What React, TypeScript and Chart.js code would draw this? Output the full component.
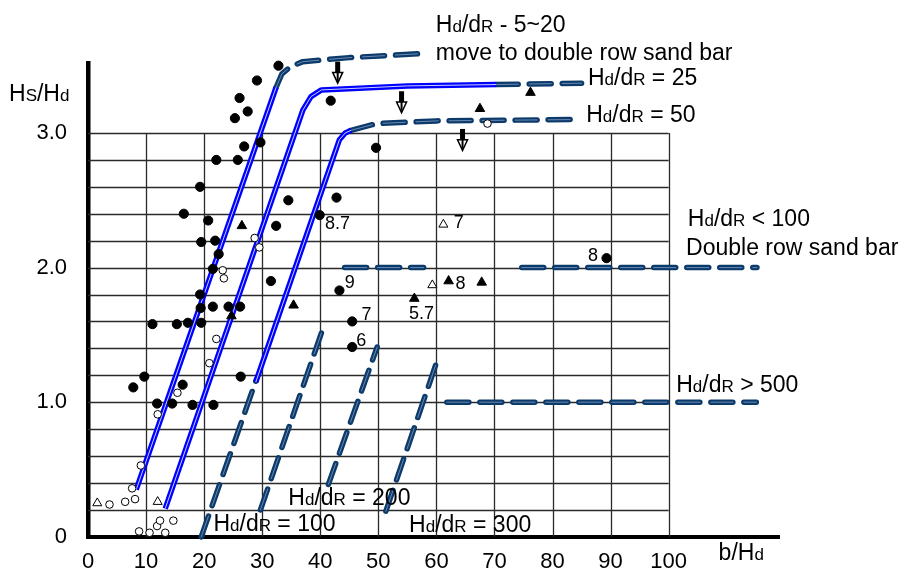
import React, { useEffect, useRef } from "react";
import { Chart, registerables } from "chart.js";

Chart.register(...registerables);

// ---------- axes ----------
const xTicks = [0, 10, 20, 30, 40, 50, 60, 70, 80, 90, 100];
const yTicks = [0, 1, 2, 3];
const yTickLabels = ["0", "1.0", "2.0", "3.0"];
const gridXs = [10, 20, 30, 40, 50, 60, 70, 80, 90, 100];
const gridYs = [0.2, 0.4, 0.6, 0.8, 1.0, 1.2, 1.4, 1.6, 1.8, 2.0, 2.2, 2.4, 2.6, 2.8, 3.0];
const gridXMax = 100;
const gridYMax = 3.0;

// ---------- observations ----------
const filledCircleX = [32.8, 29.1, 26.1, 27.5, 25.3, 29.7, 26.9, 22.1, 25.8, 19.3, 16.5, 20.7, 34.5, 32.4, 39.9, 19.5, 21.9, 22.5, 21.5, 19.3, 19.4, 21.5, 24.2, 26.2, 11.1, 15.3, 17.2, 19.5, 31.5, 9.7, 7.8, 16.3, 26.3, 11.9, 14.5, 18.0, 21.6, 41.8, 49.6, 42.8, 43.3, 45.5, 45.5, 89.3];
const filledCircleY = [3.50, 3.39, 3.26, 3.16, 3.11, 2.93, 2.90, 2.80, 2.80, 2.60, 2.40, 2.35, 2.50, 2.31, 2.39, 2.19, 2.20, 2.10, 1.99, 1.80, 1.70, 1.71, 1.71, 1.71, 1.58, 1.58, 1.59, 1.59, 1.90, 1.19, 1.11, 1.13, 1.19, 0.99, 0.99, 0.98, 0.98, 3.24, 2.89, 2.52, 1.83, 1.60, 1.41, 2.07];

const openCircleX = [28.7, 29.5, 23.2, 23.4, 22.1, 20.9, 15.4, 12.0, 9.1, 7.6, 8.1, 6.4, 3.7, 8.8, 10.6, 11.9, 12.4, 14.7, 13.3, 68.8];
const openCircleY = [2.22, 2.15, 1.98, 1.92, 1.47, 1.29, 1.07, 0.91, 0.53, 0.36, 0.28, 0.26, 0.24, 0.04, 0.03, 0.08, 0.12, 0.12, 0.03, 3.07];

const filledTriangleX = [26.5, 24.7, 35.4, 67.5, 76.2, 56.2, 62.1, 67.8];
const filledTriangleY = [2.31, 1.64, 1.72, 3.18, 3.30, 1.77, 1.90, 1.89];

const openTriangleX = [1.6, 12.0, 61.2, 59.3];
const openTriangleY = [0.25, 0.26, 2.32, 1.87];

// ---------- curves ----------
const curve520BlueX = [8.3, 32.4];
const curve520BlueY = [0.35, 3.34];
const curve520DashX = [32.4, 33.4, 34.8, 37.0, 45.0, 57.5];
const curve520DashY = [3.34, 3.44, 3.49, 3.53, 3.56, 3.59];

const curve25BlueX = [13.3, 37.0, 38.4, 40.2, 55.0, 70.3];
const curve25BlueY = [0.21, 3.17, 3.27, 3.32, 3.35, 3.36];
const curve25DashX = [70.3, 85.0];
const curve25DashY = [3.36, 3.37];

const curve50BlueX = [28.9, 43.3, 44.3, 45.3];
const curve50BlueY = [1.15, 2.95, 3.0, 3.02];
const curve50DashX = [45.3, 49.7, 60.0, 84.2];
const curve50DashY = [3.02, 3.07, 3.09, 3.10];

const line100X = [19.5, 29.0];
const line100Y = [0.0, 1.17];
const line200X = [29.7, 40.8];
const line200Y = [0.20, 1.59];
const line200bX = [41.4, 49.8];
const line200bY = [0.39, 1.41];
const line300X = [51.3, 60.3];
const line300Y = [0.19, 1.33];

const level2aX = [44.2, 57.8];
const level2aY = [2.0, 2.0];
const level2bX = [74.7, 115.2];
const level2bY = [2.0, 2.0];
const level1X = [61.8, 115.1];
const level1Y = [1.0, 1.0];

// ---------- arrows ----------
const arrowX = [43.0, 54.0, 64.5];
const arrowTopY = [3.53, 3.31, 3.03];
const arrowTipY = [3.37, 3.15, 2.87];

// ---------- point labels ----------
const pointLabelTexts = ["8.7", "7", "9", "7", "6", "5.7", "8", "8"];
const pointLabelX = [40.8, 63.0, 44.2, 47.1, 46.2, 55.3, 63.3, 86.1];
const pointLabelY = [2.29, 2.296, 1.85, 1.61, 1.42, 1.62, 1.84, 2.047];

// ---------- notes ([..] = small letters) ----------
const noteTexts = [
  "H[d]/d[R] - 5~20",
  "move to double row sand bar",
  "H[d]/d[R] = 25",
  "H[d]/d[R] = 50",
  "H[d]/d[R] < 100",
  "Double row sand bar",
  "H[d]/d[R] > 500",
  "H[d]/d[R] = 200",
  "H[d]/d[R] = 100",
  "H[d]/d[R] = 300",
  "H[S]/H[d]",
  "b/H[d]",
];
const noteX = [59.9, 59.9, 86.1, 85.8, 103.3, 103.0, 101.3, 34.5, 21.6, 55.3, -13.6, 108.6];
const noteY = [3.75, 3.54, 3.356, 3.08, 2.306, 2.096, 1.076, 0.237, 0.04, 0.035, 3.24, -0.175];

const FONT = '"Liberation Sans", Arial, Helvetica, sans-serif';
const BLUE = "#0000ff";
const BLUE_IN = "#c8d0ff";
const NAVY = "#0c3a6b";
const NAVY_IN = "#6a8ab2";

const pts = (xs: number[], ys: number[]) => xs.map((x, i) => ({ x, y: ys[i] }));

function drawRich(ctx: CanvasRenderingContext2D, text: string, x: number, y: number, size: number) {
  const parts = text.split(/(\[[^\]]*\])/).filter((p) => p.length > 0);
  let cx = x;
  for (const p of parts) {
    const small = p.startsWith("[");
    const t = small ? p.slice(1, -1) : p;
    ctx.font = `${small ? Math.round(size * 0.76) : size}px ${FONT}`;
    ctx.fillText(t, cx, y);
    cx += ctx.measureText(t).width;
  }
}

const gridPlugin = {
  id: "customGrid",
  beforeDatasetsDraw(chart: any) {
    const { ctx, scales } = chart;
    const xs = scales.x;
    const ys = scales.y;
    ctx.save();
    ctx.lineWidth = 1.3;
    ctx.strokeStyle = "#2a2a2a";
    for (const gx of gridXs) {
      const px = Math.round(xs.getPixelForValue(gx)) + 0.5;
      ctx.beginPath();
      ctx.moveTo(px, ys.getPixelForValue(0));
      ctx.lineTo(px, ys.getPixelForValue(gridYMax));
      ctx.stroke();
    }
    for (const gy of gridYs) {
      const py = Math.round(ys.getPixelForValue(gy)) + 0.5;
      ctx.beginPath();
      ctx.moveTo(xs.getPixelForValue(0), py);
      ctx.lineTo(xs.getPixelForValue(gridXMax), py);
      ctx.stroke();
    }
    ctx.restore();
  },
};

const notesPlugin = {
  id: "notes",
  afterDraw(chart: any) {
    const { ctx, scales } = chart;
    const xs = scales.x;
    const ys = scales.y;
    ctx.save();
    ctx.fillStyle = "#000";
    ctx.textBaseline = "alphabetic";
    ctx.textAlign = "left";
    noteTexts.forEach((t, i) => {
      drawRich(ctx, t, xs.getPixelForValue(noteX[i]), ys.getPixelForValue(noteY[i]), 23);
    });
    pointLabelTexts.forEach((t, i) => {
      drawRich(ctx, t, xs.getPixelForValue(pointLabelX[i]), ys.getPixelForValue(pointLabelY[i]), 18);
    });
    // arrows
    arrowX.forEach((ax, i) => {
      const px = xs.getPixelForValue(ax);
      const top = ys.getPixelForValue(arrowTopY[i]);
      const tip = ys.getPixelForValue(arrowTipY[i]);
      const mid = top + (tip - top) * 0.5;
      ctx.fillStyle = "#000";
      ctx.fillRect(px - 2.5, top, 5, mid - top + 1);
      ctx.beginPath();
      ctx.moveTo(px - 5, mid);
      ctx.lineTo(px + 5, mid);
      ctx.lineTo(px, tip);
      ctx.closePath();
      ctx.fillStyle = "#fff";
      ctx.fill();
      ctx.lineWidth = 1.5;
      ctx.strokeStyle = "#000";
      ctx.stroke();
      ctx.beginPath();
      ctx.moveTo(px, mid);
      ctx.lineTo(px, tip - 2);
      ctx.lineWidth = 2;
      ctx.stroke();
    });
    ctx.restore();
  },
};

function pointSet(xs: number[], ys: number[], style: string, radius: number, fill: string) {
  return {
    data: pts(xs, ys),
    showLine: false,
    pointStyle: style,
    pointRadius: radius,
    pointHoverRadius: radius,
    pointBackgroundColor: fill,
    pointBorderColor: "#000",
    pointBorderWidth: 1,
    clip: false,
  };
}

function lineSets(xs: number[], ys: number[], dashed: boolean) {
  const outer = dashed ? NAVY : BLUE;
  const inner = dashed ? NAVY_IN : BLUE_IN;
  const dash = dashed ? [22, 11] : [];
  const base = {
    data: pts(xs, ys),
    showLine: true,
    pointRadius: 0,
    pointHoverRadius: 0,
    tension: 0,
    borderDash: dash,
    borderCapStyle: dashed ? "round" : "butt",
    borderJoinStyle: "round",
    fill: false,
    clip: false,
  };
  return [
    { ...base, borderColor: inner, borderWidth: 1 },
    { ...base, borderColor: outer, borderWidth: dashed ? 5.5 : 5.5 },
  ];
}

export default function App() {
  const canvasRef = useRef<HTMLCanvasElement | null>(null);

  useEffect(() => {
    if (!canvasRef.current) return;
    const datasets: any[] = [
      pointSet(filledCircleX, filledCircleY, "circle", 4.6, "#000"),
      pointSet(openCircleX, openCircleY, "circle", 3.8, "#fff"),
      pointSet(filledTriangleX, filledTriangleY, "triangle", 5.5, "#000"),
      pointSet(openTriangleX, openTriangleY, "triangle", 5.2, "#fff"),
      ...lineSets(curve520BlueX, curve520BlueY, false),
      ...lineSets(curve25BlueX, curve25BlueY, false),
      ...lineSets(curve50BlueX, curve50BlueY, false),
      ...lineSets(curve520DashX, curve520DashY, true),
      ...lineSets(curve25DashX, curve25DashY, true),
      ...lineSets(curve50DashX, curve50DashY, true),
      ...lineSets(line100X, line100Y, true),
      ...lineSets(line200X, line200Y, true),
      ...lineSets(line200bX, line200bY, true),
      ...lineSets(line300X, line300Y, true),
      ...lineSets(level2aX, level2aY, true),
      ...lineSets(level2bX, level2bY, true),
      ...lineSets(level1X, level1Y, true),
    ];
    const chart = new Chart(canvasRef.current, {
      type: "scatter",
      data: { datasets },
      options: {
        animation: false,
        responsive: false,
        events: [],
        layout: { padding: { left: 0, top: 63, right: 131, bottom: 0 } },
        plugins: { legend: { display: false }, tooltip: { enabled: false } },
        scales: {
          x: {
            type: "linear",
            min: 0,
            max: 119,
            grid: { display: false, drawTicks: false },
            border: { display: true, color: "#000", width: 4 },
            ticks: { color: "#000", font: { family: FONT, size: 22 }, padding: 12, maxRotation: 0 },
            afterBuildTicks: (s: any) => {
              s.ticks = xTicks.map((v) => ({ value: v }));
            },
            afterFit: (s: any) => {
              s.height = 33;
            },
          },
          y: {
            type: "linear",
            min: 0,
            max: 3.52,
            grid: { display: false, drawTicks: false },
            border: { display: true, color: "#000", width: 4.5 },
            ticks: {
              color: "#000",
              font: { family: FONT, size: 22 },
              padding: 21,
              callback: (v: any) => {
                const i = yTicks.indexOf(Number(v));
                return i >= 0 ? yTickLabels[i] : "";
              },
            },
            afterBuildTicks: (s: any) => {
              s.ticks = yTicks.map((v) => ({ value: v }));
            },
            afterFit: (s: any) => {
              s.width = 88;
            },
          },
        },
      } as any,
      plugins: [gridPlugin, notesPlugin],
    });
    return () => chart.destroy();
  }, []);

  return (
    <div style={{ position: "absolute", left: 0, top: 0, width: 910, height: 571, background: "#fff" }}>
      <canvas ref={canvasRef} width={910} height={571} />
    </div>
  );
}
